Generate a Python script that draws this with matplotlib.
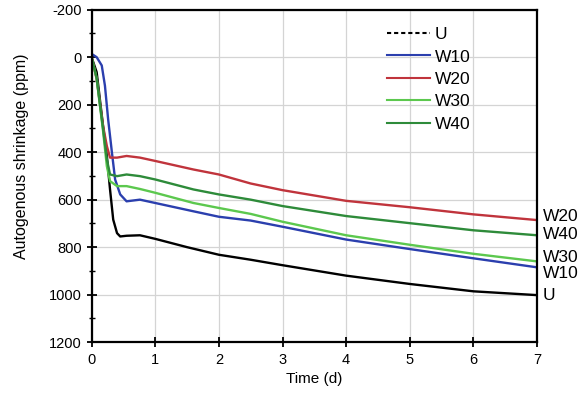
import matplotlib
matplotlib.use("Agg")
import matplotlib.pyplot as plt
from matplotlib.lines import Line2D
from matplotlib.ticker import MultipleLocator

plt.rcParams['font.family'] = ['Liberation Sans', 'DejaVu Sans']
plt.rcParams['axes.unicode_minus'] = False

# time (d) and autogenous shrinkage (ppm)
time_u = [0, 0.08, 0.13, 0.18, 0.24, 0.29, 0.34, 0.40, 0.45, 0.55, 0.76, 1.0, 1.5, 2.0, 2.5, 3.0, 4.0, 5.0, 6.0, 7.0]
shrink_u = [0, 63, 176, 289, 416, 557, 684, 741, 755, 752, 750, 765, 800, 832, 853, 876, 920, 955, 986, 1002]

time_w10 = [0, 0.08, 0.16, 0.21, 0.26, 0.32, 0.37, 0.45, 0.55, 0.76, 1.0, 1.6, 2.0, 2.5, 3.0, 4.0, 5.0, 6.0, 7.0]
shrink_w10 = [-14, 0, 35, 120, 261, 402, 515, 578, 607, 600, 614, 649, 672, 688, 714, 768, 808, 847, 885]

time_w20 = [0, 0.08, 0.13, 0.18, 0.24, 0.29, 0.40, 0.55, 0.76, 1.0, 1.6, 2.0, 2.5, 3.0, 4.0, 5.0, 6.0, 7.0]
shrink_w20 = [0, 92, 190, 289, 374, 423, 423, 416, 423, 437, 473, 494, 532, 560, 605, 632, 662, 686]

time_w30 = [0, 0.08, 0.13, 0.18, 0.24, 0.29, 0.40, 0.55, 0.76, 1.0, 1.6, 2.0, 2.5, 3.0, 4.0, 5.0, 6.0, 7.0]
shrink_w30 = [0, 90, 200, 310, 459, 522, 543, 543, 555, 571, 614, 635, 660, 693, 750, 790, 828, 860]

time_w40 = [0, 0.08, 0.13, 0.18, 0.24, 0.29, 0.40, 0.55, 0.76, 1.0, 1.6, 2.0, 2.5, 3.0, 4.0, 5.0, 6.0, 7.0]
shrink_w40 = [0, 88, 195, 300, 430, 494, 501, 494, 501, 515, 557, 578, 600, 627, 669, 699, 729, 750]

names = ["U", "W10", "W20", "W30", "W40"]
# where the series names sit at the right edge (ppm)
end_label_y = [1002, 910, 673, 842, 748]

series = [
    (time_u, shrink_u, "black", (0, (2, 1.4))),
    (time_w10, shrink_w10, "#2b3fae", "-"),
    (time_w20, shrink_w20, "#c0343c", "-"),
    (time_w30, shrink_w30, "#5cc84e", "-"),
    (time_w40, shrink_w40, "#2e8b3a", "-"),
]

fig = plt.figure(figsize=(5.87, 4.03), dpi=100)
ax = fig.add_axes([0.156, 0.151, 0.759, 0.825])

handles = []
for name, (t, s, color, ls) in zip(names, series):
    ax.plot(t, s, color=color, linestyle='-', linewidth=1.7)
    handles.append(Line2D([], [], color=color, linestyle=ls, linewidth=1.5, label=name))

ax.set_xlim(0, 7)
ax.set_ylim(1200, -200)
ax.xaxis.set_major_locator(MultipleLocator(1))
ax.yaxis.set_major_locator(MultipleLocator(200))
ax.yaxis.set_minor_locator(MultipleLocator(100))
ax.grid(True, which='major', color='#d4d4d4', linewidth=0.9)
ax.set_axisbelow(True)

for sp in ax.spines.values():
    sp.set_linewidth(1.6)
ax.tick_params(which='major', direction='inout', length=7, width=1.3, labelsize=10.5, top=False, right=False)
ax.tick_params(which='minor', direction='inout', length=4, width=1.0, top=False, right=False)
ax.tick_params(axis='x', pad=4)

ax.set_xlabel("Time (d)", fontsize=11)
ax.set_ylabel("Autogenous shrinkage (ppm)", fontsize=11.5)
ax.yaxis.set_label_coords(-0.14, 0.56)

ax.legend(handles=handles, loc='upper right', bbox_to_anchor=(0.885, 0.995), frameon=False,
          fontsize=12.5, handlelength=2.5, handletextpad=0.25, labelspacing=0.42)

for name, y in zip(names, end_label_y):
    ax.annotate(name, xy=(1.0, y), xycoords=('axes fraction', 'data'),
                xytext=(4, 0), textcoords='offset points', va='center', ha='left',
                fontsize=12.5, annotation_clip=False)

fig.savefig("out.png", dpi=100)
